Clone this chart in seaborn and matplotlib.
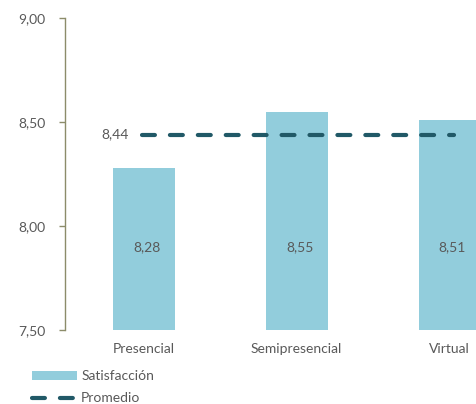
import matplotlib
matplotlib.use("Agg")
import matplotlib.pyplot as plt
from matplotlib.ticker import FuncFormatter
import pandas as pd
import seaborn as sns

############### data
modalidades = ["Presencial", "Semipresencial", "Virtual"]
satisfaccion = [8.28, 8.55, 8.51]
promedio = 8.44
y_ticks = [7.50, 8.00, 8.50, 9.00]

bar_color = "#92cddc"
line_color = "#215967"
text_color = "#595959"
axis_color = "#8c8c6a"

sns.set_style("white")
plt.rcParams["font.family"] = ["Lato", "DejaVu Sans"]


def comma(v, pos=None):
    return f"{v:.2f}".replace(".", ",")


df = pd.DataFrame({"modalidad": modalidades, "satisfaccion": satisfaccion})

fig = plt.figure(figsize=(4.77, 4.04), dpi=100)
ax = fig.add_axes([0.136, 0.183, 0.864, 0.772])

sns.barplot(data=df, x="modalidad", y="satisfaccion", color=bar_color,
            saturation=1, width=0.405, linewidth=0, ax=ax, label="Satisfacción")
if ax.get_legend() is not None:
    ax.get_legend().remove()

# average line across the categories
xs = list(range(len(modalidades)))
line, = ax.plot([xs[0] - 0.01, xs[-1] + 0.03], [promedio, promedio],
                color=line_color, lw=3, ls=(0, (3.1, 3.6)),
                dash_capstyle="round", label="Promedio")
ax.text(xs[0] - 0.1, promedio, comma(promedio), ha="right", va="center",
        fontsize=10, color=text_color)

# values inside bars
for i, v in enumerate(satisfaccion):
    ax.text(i + 0.02, 7.90, comma(v), ha="center", va="center",
            fontsize=10, color=text_color)

ax.set_ylim(y_ticks[0], y_ticks[-1])
ax.set_xlim(-0.516, 2.18)
ax.set_yticks(y_ticks)
ax.yaxis.set_major_formatter(FuncFormatter(comma))
ax.set_xlabel("")
ax.set_ylabel("")

for s in ["top", "right", "bottom"]:
    ax.spines[s].set_visible(False)
ax.spines["left"].set_color(axis_color)
ax.spines["left"].set_linewidth(1)
ax.tick_params(axis="y", left=True, length=4, width=1, color=axis_color,
               labelsize=10, labelcolor=text_color, pad=10)
ax.tick_params(axis="x", bottom=False, labelsize=10, labelcolor=text_color, pad=6)

bar_handle = ax.patches[0]
fig.legend([bar_handle, line], ["Satisfacción", "Promedio"], loc="upper left",
           bbox_to_anchor=(0.068, 0.084), frameon=False, fontsize=10,
           labelcolor=text_color, handlelength=3.2, handleheight=0.6,
           handletextpad=0.3, labelspacing=0.75, borderaxespad=0, borderpad=0)

fig.savefig("out.png", dpi=100)
